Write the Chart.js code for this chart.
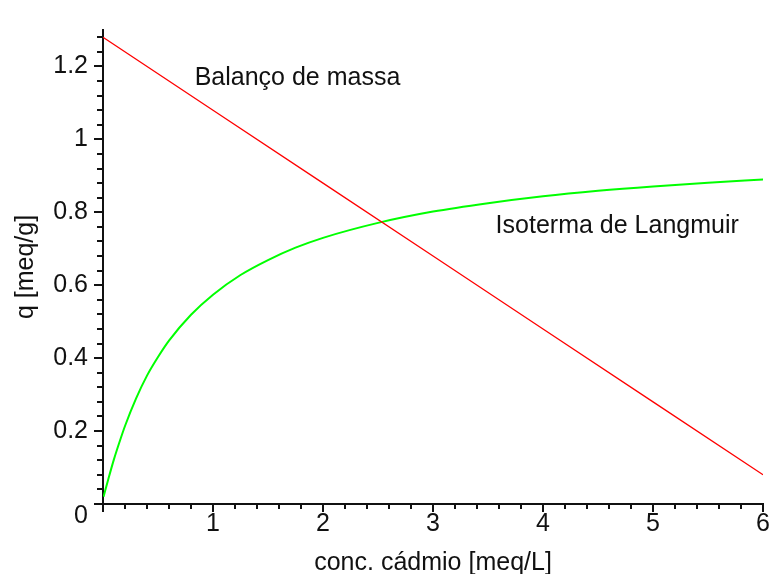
<!DOCTYPE html>
<html><head><meta charset="utf-8">
<script src="https://cdn.jsdelivr.net/npm/chart.js@4/dist/chart.umd.min.js"></script>
<style>html,body{margin:0;padding:0;background:#fff;}canvas{display:block;}</style>
</head><body>
<canvas id="c" width="775" height="574"></canvas>
<script>
// ---- data ----
const concLangmuir = [0.005, 0.05, 0.1, 0.15, 0.2, 0.3, 0.4, 0.5, 0.6, 0.8, 1.0, 1.25, 1.5, 1.75, 2.0, 2.5, 3.0, 3.5, 4.0, 4.5, 5.0, 5.5, 6.0];
const qLangmuir    = [0.02, 0.07, 0.123, 0.17, 0.214, 0.289, 0.352, 0.403, 0.448, 0.519, 0.574, 0.628, 0.669, 0.703, 0.730, 0.771, 0.802, 0.825, 0.844, 0.859, 0.871, 0.881, 0.890];
const concBalance  = [0, 1, 2, 3, 4, 5, 6];
const qBalance     = [1.28, 1.08, 0.88, 0.68, 0.48, 0.28, 0.08];
const seriesNames  = ['Balanço de massa', 'Isoterma de Langmuir'];
const xTickValues  = [1, 2, 3, 4, 5, 6];
const xTickLabels  = ['1', '2', '3', '4', '5', '6'];
const yTickValues  = [0, 0.2, 0.4, 0.6, 0.8, 1, 1.2];
const yTickLabels  = ['0', '0.2', '0.4', '0.6', '0.8', '1', '1.2'];
const xTitle = 'conc. cádmio [meq/L]';
const yTitle = 'q [meq/g]';

// ---- presentation ----
const FONT = "'Liberation Sans', Arial, sans-serif";
const INK = '#111';
const labelAnchors = [{x: 0.833, y: 1.148}, {x: 3.569, y: 0.744}]; // in data units

function near(a, b) { return Math.abs(a - b) < 1e-6; }
function labelFor(values, labels, v) {
  for (let i = 0; i < values.length; i++) if (near(values[i], v)) return labels[i];
  return null;
}

const axisPlugin = {
  id: 'axisTicks',
  afterDraw(chart) {
    const ctx = chart.ctx, xs = chart.scales.x, ys = chart.scales.y;
    const ax = chart.chartArea.left, ay = chart.chartArea.bottom;
    ctx.save();
    ctx.strokeStyle = INK; ctx.lineWidth = 2;
    ctx.beginPath();
    ys.ticks.forEach(t => {
      const p = Math.round(ys.getPixelForValue(t.value));
      const major = labelFor(yTickValues, yTickLabels, t.value) !== null;
      ctx.moveTo(ax - (major ? 9 : 6), p); ctx.lineTo(ax, p);
    });
    xs.ticks.forEach(t => {
      const p = Math.round(xs.getPixelForValue(t.value));
      const major = near(t.value, 0) || labelFor(xTickValues, xTickLabels, t.value) !== null;
      ctx.moveTo(p, ay); ctx.lineTo(p, ay + (major ? 8 : 5));
    });
    ctx.stroke();
    // origin label, set below the axis as in the reference
    ctx.fillStyle = INK; ctx.font = '25px ' + FONT;
    ctx.textAlign = 'right'; ctx.textBaseline = 'middle';
    ctx.fillText(yTickLabels[0], ax - 15, ys.getPixelForValue(0) + 12);
    // curve labels
    ctx.textAlign = 'left'; ctx.textBaseline = 'alphabetic';
    seriesNames.forEach((n, i) => {
      ctx.fillText(n, xs.getPixelForValue(labelAnchors[i].x), ys.getPixelForValue(labelAnchors[i].y));
    });
    ctx.restore();
  }
};

new Chart(document.getElementById('c'), {
  type: 'line',
  data: {
    datasets: [
      { label: seriesNames[0], data: concBalance.map((c, i) => ({x: c, y: qBalance[i]})),
        borderColor: '#ff0000', borderWidth: 1.3, pointRadius: 0, tension: 0 },
      { label: seriesNames[1], data: concLangmuir.map((c, i) => ({x: c, y: qLangmuir[i]})),
        borderColor: '#00ff00', borderWidth: 2, pointRadius: 0, cubicInterpolationMode: 'monotone' }
    ]
  },
  options: {
    responsive: false, animation: false, devicePixelRatio: 1,
    layout: { padding: { top: 19.4, right: 7.3, left: 0, bottom: 0 } },
    plugins: { legend: { display: false }, tooltip: { enabled: false } },
    scales: {
      x: {
        type: 'linear', min: 0, max: 6,
        afterFit: s => { s.height = 70; },
        grid: { display: true, drawOnChartArea: false, drawTicks: false },
        border: { display: true, color: INK, width: 2 },
        ticks: { stepSize: 0.2, autoSkip: false, maxRotation: 0, padding: 5, color: INK,
                 font: { family: FONT, size: 25 },
                 callback: v => labelFor(xTickValues, xTickLabels, v) || '' },
        title: { display: true, text: xTitle, color: INK, padding: 0,
                 font: { family: FONT, size: 25, lineHeight: 0.9 } }
      },
      y: {
        type: 'linear', min: 0, max: 1.3,
        afterFit: s => { s.width = 103; },
        grid: { display: true, drawOnChartArea: false, drawTicks: false },
        border: { display: true, color: INK, width: 2 },
        ticks: { stepSize: 0.04, includeBounds: false, autoSkip: false, padding: 15, color: INK,
                 font: { family: FONT, size: 25 },
                 callback: v => { if (near(v, 0)) return ''; return labelFor(yTickValues, yTickLabels, v) || ''; } },
        title: { display: true, text: yTitle, color: INK, padding: { top: 15, bottom: 0 },
                 font: { family: FONT, size: 25, lineHeight: 0.9 } }
      }
    }
  },
  plugins: [axisPlugin]
});
</script>
</body></html>
